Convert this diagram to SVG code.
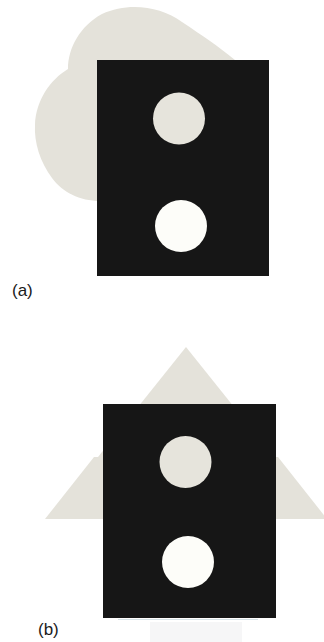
<svg xmlns="http://www.w3.org/2000/svg" width="324" height="642" viewBox="0 0 324 642">
<style>
.bg{fill:#e4e2da}
.plate{fill:#161616}
.holeA{fill:#e6e4dc}
.holeB{fill:#fdfdf9}
.lbl{font-family:"Liberation Sans",Arial,sans-serif;font-size:17px;fill:#1a1a1a}
</style>
<rect width="324" height="642" fill="#ffffff"/>
<g id="figure-a">
  <path id="cloud" class="bg" d="M 100,201 C 80,201 62,192 52,178 C 40,162 34,142 35,125 C 36,100 50,80 68,69 C 68,48 80,26 102,14 C 128,2 160,6 182,22 C 203,36 218,46 235,60 L 235,201 Z"/>
  <rect id="plate-a" class="plate" x="97" y="60" width="172" height="216"/>
  <circle id="hole-a-top" class="holeA" cx="179" cy="118.5" r="26"/>
  <circle id="hole-a-bottom" class="holeB" cx="181" cy="226" r="26"/>
  <text class="lbl" x="12" y="296">(a)</text>
</g>
<g id="figure-b">
  <polygon id="tri-top" class="bg" points="186,347 98,457 274,457"/>
  <polygon id="tri-bottom" class="bg" points="94,457 278,457 327,519 45,519"/>
  <rect id="plate-b" class="plate" x="103" y="404" width="173" height="214"/>
  <circle id="hole-b-top" class="holeA" cx="185.5" cy="462" r="26"/>
  <circle id="hole-b-bottom" class="holeB" cx="188" cy="562" r="26"/>
  <line x1="118" y1="619.5" x2="258" y2="619.5" stroke="#d8e4e8" stroke-width="1"/>
  <rect x="150" y="622" width="92" height="20" fill="#f6f6f7"/>
  <text class="lbl" x="38" y="635">(b)</text>
</g>
</svg>
